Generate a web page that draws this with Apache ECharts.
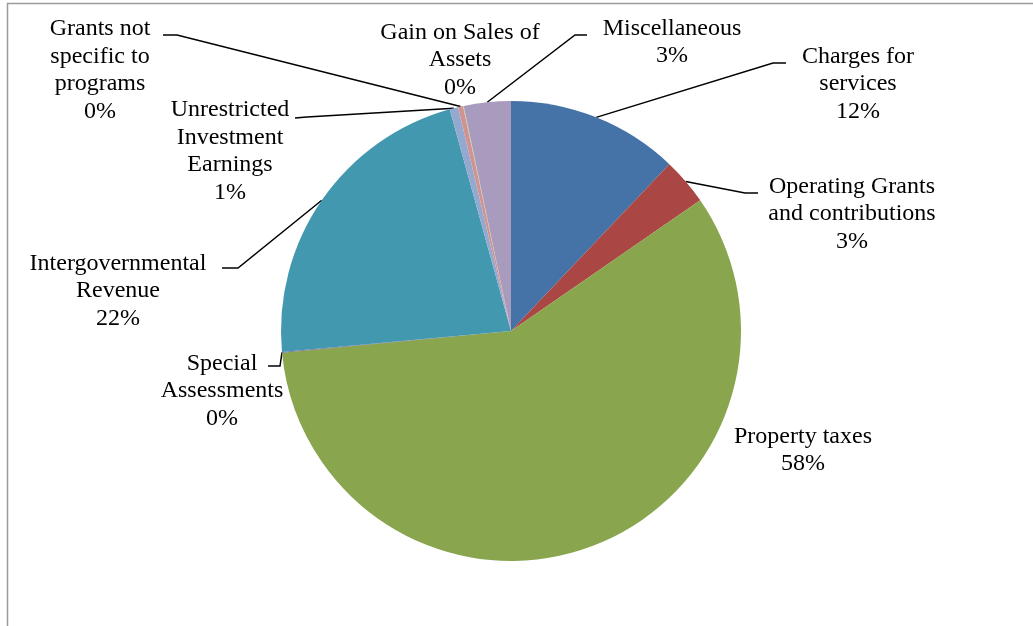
<!DOCTYPE html>
<html>
<head>
<meta charset="utf-8">
<script src="https://cdn.jsdelivr.net/npm/echarts@6/dist/echarts.min.js"></script>
<style>
  html, body { margin: 0; padding: 0; background: #fff; }
  #chart { width: 1033px; height: 626px; }
</style>
</head>
<body>
<div id="chart"></div>
<script>
// revenue sources, share of total (percent)
const categories = [
  "Charges for\nservices",
  "Operating Grants\nand contributions",
  "Property taxes",
  "Special\nAssessments",
  "Intergovernmental\nRevenue",
  "Unrestricted\nInvestment\nEarnings",
  "Grants not\nspecific to\nprograms",
  "Gain on Sales of\nAssets",
  "Miscellaneous"
];
const values = [12.1, 3.3, 58.2, 0.05, 22.2, 0.6, 0.35, 0.05, 3.3];
const colors = ["#4572A7", "#AA4643", "#89A54E", "#71588F", "#4198AF",
                "#93A9CF", "#D19392", "#B9CD96", "#A99BBD"];

// where each label sits: text centre, and where its leader line ends (null = no line)
const labelPos = [
  { c: [858, 84],  end: [786, 63],  bend: [773, 63] },
  { c: [852, 214], end: [758, 193], bend: [745, 193] },
  { c: [803, 450], end: null },
  { c: [222, 391], end: [268, 366], bend: [280, 366] },
  { c: [118, 291], end: [222, 268], bend: [238, 268] },
  { c: [230, 151], end: [295, 118], bend: [307, 117] },
  { c: [100, 70],  end: [163, 35],  bend: [177, 35] },
  { c: [460, 60],  end: null },
  { c: [672, 42],  end: [587, 35],  bend: [575, 35] }
];

const total = values.reduce((a, b) => a + b, 0);

const chart = echarts.init(document.getElementById("chart"), null, { renderer: "canvas" });

const option = {
  animation: false,
  backgroundColor: "#fff",
  graphic: [{
    type: "rect",
    shape: { x: 7.5, y: 3.5, width: 1200, height: 800 },
    style: { fill: "none", stroke: "#9a9a9a", lineWidth: 1.5 },
    silent: true
  }],
  series: [{
    type: "pie",
    center: [511, 331],
    radius: 230,
    startAngle: 90,
    clockwise: true,
    avoidLabelOverlap: false,
    emphasis: { disabled: true },
    itemStyle: { borderWidth: 0 },
    label: {
      show: true,
      color: "#000",
      fontFamily: "Liberation Serif",
      fontSize: 24,
      lineHeight: 27.5,
      align: "center",
      formatter: p => p.name + "\n" + Math.round(p.value / total * 100) + "%"
    },
    labelLine: {
      show: true,
      lineStyle: { color: "#000", width: 1.5 }
    },
    labelLayout: params => {
      const pos = labelPos[params.dataIndex];
      const out = { x: pos.c[0], y: pos.c[1], align: "center", verticalAlign: "middle" };
      if (pos.end && params.labelLinePoints) {
        out.labelLinePoints = [params.labelLinePoints[0], pos.bend, pos.end];
      }
      return out;
    },
    data: categories.map((name, i) => ({
      name: name,
      value: values[i],
      itemStyle: { color: colors[i] },
      labelLine: { show: labelPos[i].end !== null }
    }))
  }]
};

chart.setOption(option);
</script>
</body>
</html>
